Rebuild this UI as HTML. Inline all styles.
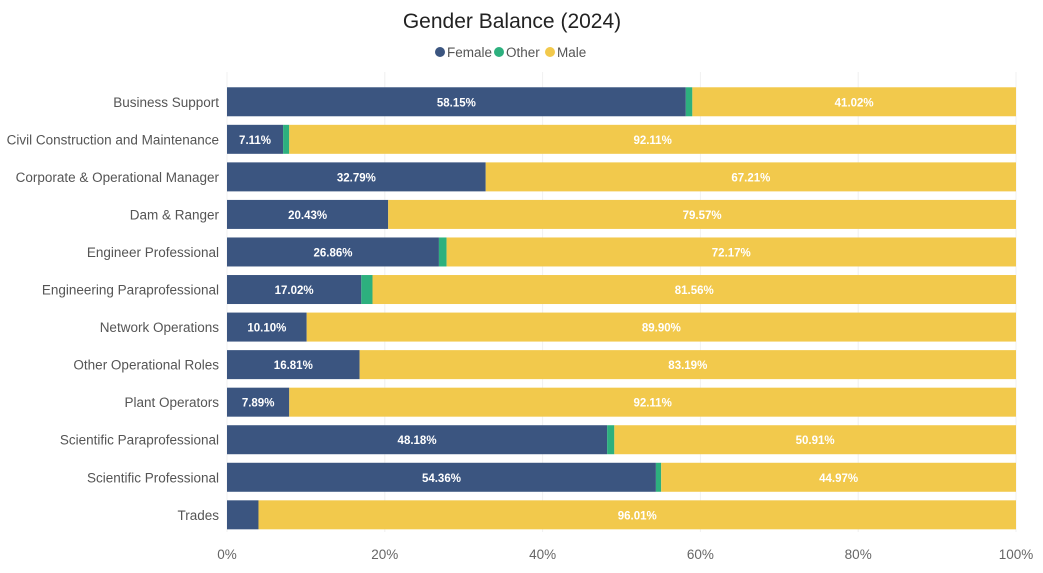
<!DOCTYPE html>
<html><head><meta charset="utf-8"><style>
body{margin:0;background:#fff;}
svg{display:block;font-family:"Liberation Sans","DejaVu Sans",sans-serif;}
</style></head><body>
<svg id="chart" width="1043" height="573">
<text x="512" y="28" text-anchor="middle" font-size="21" fill="#222">Gender Balance (2024)</text>
<g>
<g><circle cx="440" cy="52" r="5" fill="#3b5580"/><text x="447" y="57" font-size="13.5" fill="#555">Female</text></g>
<g><circle cx="499" cy="52" r="5" fill="#2db07e"/><text x="506" y="57" font-size="13.5" fill="#555">Other</text></g>
<g><circle cx="550" cy="52" r="5" fill="#f2c94c"/><text x="557" y="57" font-size="13.5" fill="#555">Male</text></g>
</g>
<g id="grid"></g><g id="bars"></g><g id="labels"></g>
</svg>
<script>
const categories=["Business Support","Civil Construction and Maintenance","Corporate & Operational Manager","Dam & Ranger","Engineer Professional","Engineering Paraprofessional","Network Operations","Other Operational Roles","Plant Operators","Scientific Paraprofessional","Scientific Professional","Trades"];
const female=[58.15,7.11,32.79,20.43,26.86,17.02,10.10,16.81,7.89,48.18,54.36,3.99];
const other=[0.83,0.78,0,0,0.97,1.42,0,0,0,0.91,0.67,0];
const male=[41.02,92.11,67.21,79.57,72.17,81.56,89.90,83.19,92.11,50.91,44.97,96.01];
const ticks=[0,20,40,60,80,100];
const NS="http://www.w3.org/2000/svg";
const x0=227,x1=1016,yTop=83,step=37.55,bh=29;
const xs=v=>x0+(x1-x0)*v/100;
const yc=i=>yTop+step*i+step/2;
function mk(tag,attrs,parent){const e=document.createElementNS(NS,tag);for(const k in attrs)e.setAttribute(k,attrs[k]);parent.appendChild(e);return e;}
const grid=document.getElementById('grid'),bars=document.getElementById('bars'),labels=document.getElementById('labels');
ticks.forEach(t=>{
 const l=mk('line',{x1:xs(t),x2:xs(t),y1:72,y2:532,stroke:'#f0f0f0','stroke-width':1},grid);
 
 
 const tx=mk('text',{x:xs(t),y:559,'text-anchor':'middle','font-size':13.5,fill:'#666'},grid);
 tx.textContent=t+'%';
 
 
});
categories.forEach((c,i)=>{
 const y=yc(i);
 const lb=mk('text',{x:219,y:y+5,'text-anchor':'end','font-size':13.5,fill:'#555'},labels);
 lb.textContent=c;
 
 
 const segs=[[female[i],'#3b5580','female'],[other[i],'#2db07e','other'],[male[i],'#f2c94c','male']];
 let acc=0;
 segs.forEach(([v,col,nm])=>{
  if(v<=0)return;
  const r=mk('rect',{x:xs(acc),y:y-bh/2,width:xs(acc+v)-xs(acc),height:bh,fill:col},bars);
  
  
  if(nm!=='other'&&v>=5){
   const t=mk('text',{x:(xs(acc)+xs(acc+v))/2,y:y+4.5,'text-anchor':'middle','font-size':11.5,'font-weight':'bold',fill:'#fff'},labels);
   t.textContent=v.toFixed(2)+'%';
   
   
  }
  acc+=v;
 });
});
</script>
</body></html>
